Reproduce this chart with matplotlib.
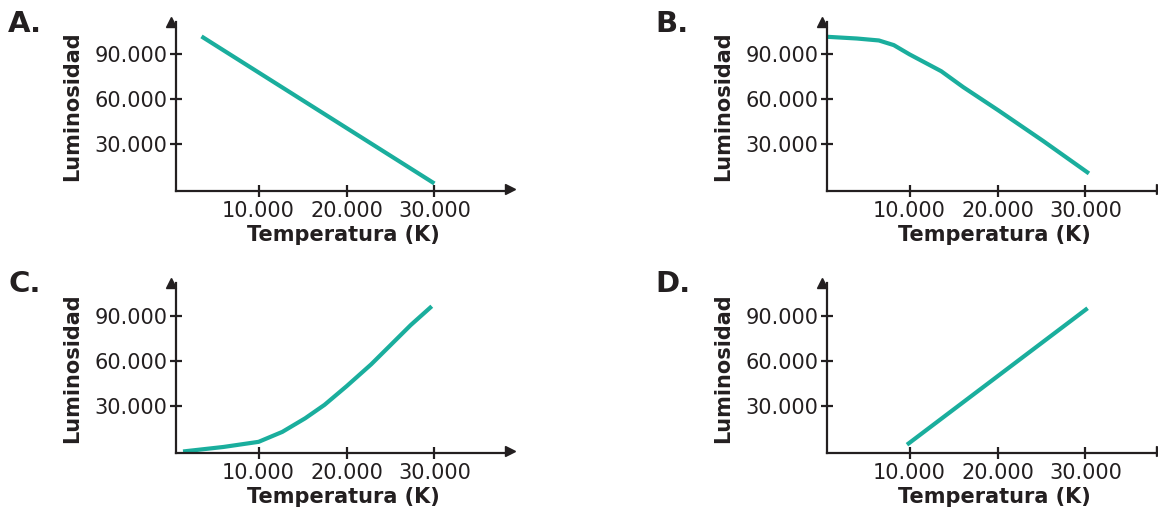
import numpy as np
import matplotlib
matplotlib.use("Agg")
import matplotlib.pyplot as plt

# datos (Temperatura en K, Luminosidad)
temp_a = [3500, 30000]
lum_a = [102000, 4000]

temp_b = [450, 4000, 6500, 8200, 10000, 13600, 16100, 20100, 25200, 30400]
lum_b = [101800, 100600, 99300, 96200, 90000, 78800, 68200, 52700, 32300, 10700]

temp_c = [1400, 6000, 10000, 12700, 15300, 17500, 20000, 22800, 25000, 27300, 29700]
lum_c = [0, 3000, 6400, 13000, 22000, 30900, 43200, 57700, 70400, 83700, 96200]

temp_d = [9700, 30250]
lum_d = [4500, 94900]

xticks = [10000, 20000, 30000]
xticklabels = ["10.000", "20.000", "30.000"]
yticks = [30000, 60000, 90000]
yticklabels = ["30.000", "60.000", "90.000"]

panels = ["A.", "B.", "C.", "D."]
series = [(temp_a, lum_a), (temp_b, lum_b), (temp_c, lum_c), (temp_d, lum_d)]

LINE = "#1aae9d"
INK = "#231f20"

fig = plt.figure(figsize=(11.58, 5.11), dpi=100)

# posiciones de los ejes en fracción de figura (left, bottom, width, height)
boxes = [
    (176 / 1158, 1 - 191 / 511, (510 - 176) / 1158, (191 - 22) / 511),
    (827 / 1158, 1 - 191 / 511, (510 - 176) / 1158, (191 - 22) / 511),
    (176 / 1158, 1 - 453 / 511, (510 - 176) / 1158, (453 - 283) / 511),
    (827 / 1158, 1 - 453 / 511, (510 - 176) / 1158, (453 - 283) / 511),
]
letter_pos = [(8, 10), (655, 10), (8, 270), (655, 270)]

for i, (x, y) in enumerate(series):
    ax = fig.add_axes(boxes[i])
    ax.plot(x, y, color=LINE, lw=3, solid_capstyle="butt", solid_joinstyle="round")
    ax.set_xlim(600, 38600)
    ax.set_ylim(-1000, 111600)

    for s in ["top", "right"]:
        ax.spines[s].set_visible(False)
    for s in ["left", "bottom"]:
        ax.spines[s].set_color(INK)
        ax.spines[s].set_linewidth(1.6)

    # flechas en los extremos de los ejes
    ax.plot(1, 0, ">", color=INK, ms=7, transform=ax.get_yaxis_transform(), clip_on=False)
    ax.plot(0, 1, "^", color=INK, ms=7, transform=ax.get_xaxis_transform(), clip_on=False)

    ax.set_xticks(xticks)
    ax.set_xticklabels(xticklabels)
    ax.set_yticks(yticks)
    ax.set_yticklabels(yticklabels)
    ax.tick_params(direction="inout", length=8, width=1.6, color=INK,
                   labelsize=15, labelcolor=INK)
    ax.tick_params(axis="x", pad=3)
    ax.tick_params(axis="y", pad=2)

    ax.set_xlabel("Temperatura (K)", fontsize=15, fontweight="bold", color=INK, labelpad=3)
    ax.set_ylabel("Luminosidad", fontsize=15, fontweight="bold", color=INK, labelpad=9)
    ax.patch.set_alpha(0)

    lx, ly = letter_pos[i]
    fig.text(lx / 1158, 1 - ly / 511, panels[i], fontsize=21, fontweight="bold",
             color=INK, va="top", ha="left")

fig.savefig("out.png", dpi=100)
